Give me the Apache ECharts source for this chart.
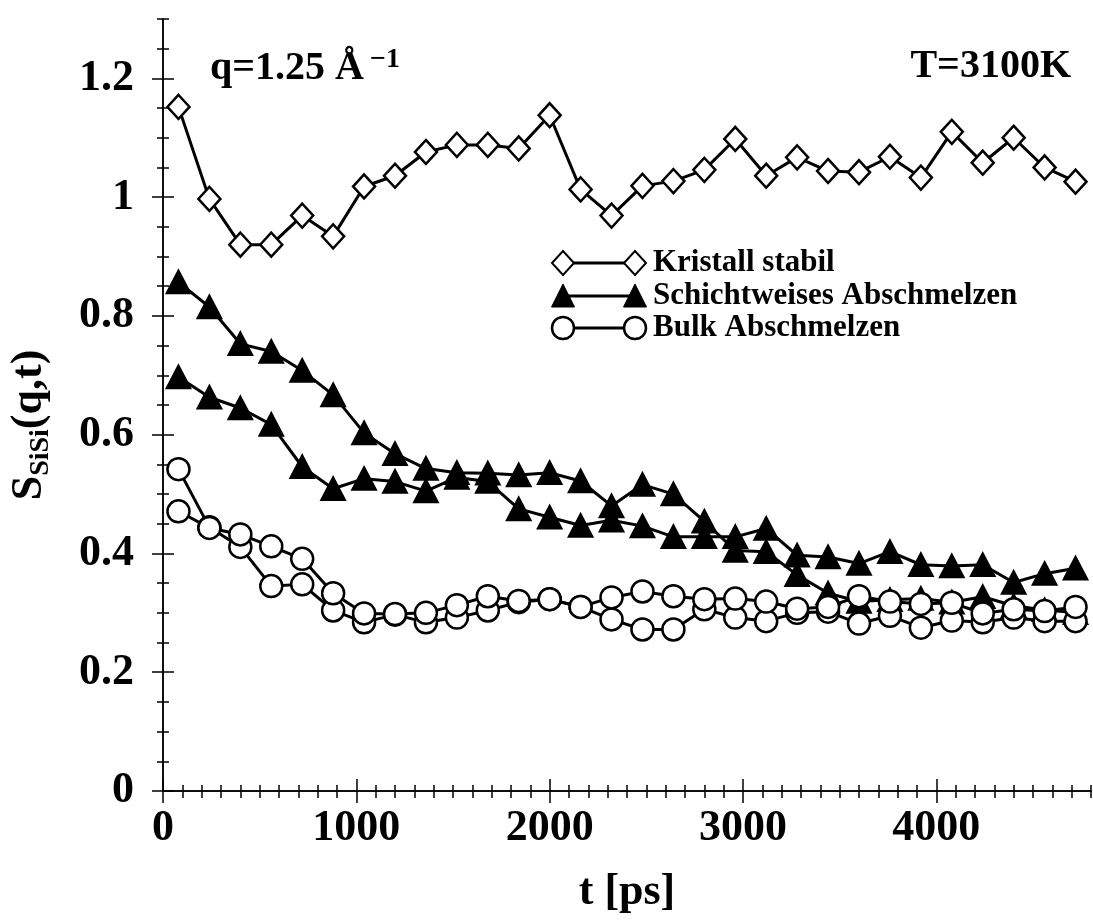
<!DOCTYPE html>
<html>
<head>
<meta charset="utf-8">
<script src="https://cdn.jsdelivr.net/npm/echarts@6/dist/echarts.min.js"></script>
<style>
  html, body { margin: 0; padding: 0; background: #fff; }
  #main { width: 1093px; height: 920px; }
</style>
</head>
<body>
<div id="main"></div>
<script>
  // Zeitpunkte [ps]
  var times = [80, 240, 400, 560, 720, 880, 1040, 1200, 1360, 1520, 1680, 1840, 2000, 2160, 2320,
               2480, 2640, 2800, 2960, 3120, 3280, 3440, 3600, 3760, 3920, 4080, 4240, 4400, 4560, 4720];

  // Kristall stabil
  var kristall = [1.152, 0.997, 0.920, 0.920, 0.969, 0.934, 1.018, 1.036, 1.076, 1.088, 1.088, 1.082, 1.138, 1.013, 0.969,
                  1.019, 1.027, 1.046, 1.098, 1.036, 1.067, 1.044, 1.042, 1.068, 1.033, 1.110, 1.058, 1.100, 1.050, 1.026];

  // Schichtweises Abschmelzen (zwei Laeufe)
  var schicht1 = [0.857, 0.815, 0.753, 0.740, 0.708, 0.667, 0.603, 0.568, 0.543, 0.536, 0.535, 0.532, 0.536, 0.522, 0.480,
                  0.516, 0.500, 0.454, 0.405, 0.403, 0.364, 0.333, 0.319, 0.322, 0.324, 0.318, 0.327, 0.312, 0.305, 0.300];
  var schicht2 = [0.697, 0.663, 0.645, 0.617, 0.546, 0.509, 0.526, 0.521, 0.505, 0.528, 0.521, 0.475, 0.461, 0.447, 0.456,
                  0.446, 0.428, 0.428, 0.428, 0.442, 0.397, 0.394, 0.383, 0.403, 0.381, 0.379, 0.381, 0.351, 0.366, 0.375];

  // Bulk Abschmelzen (zwei Laeufe)
  var bulk1 = [0.542, 0.444, 0.411, 0.345, 0.348, 0.304, 0.284, 0.297, 0.284, 0.292, 0.304, 0.318, 0.323, 0.310, 0.289,
               0.272, 0.272, 0.306, 0.292, 0.286, 0.300, 0.302, 0.282, 0.295, 0.275, 0.287, 0.284, 0.292, 0.286, 0.286];
  var bulk2 = [0.471, 0.443, 0.432, 0.412, 0.391, 0.333, 0.299, 0.298, 0.300, 0.313, 0.328, 0.320, 0.323, 0.310, 0.326,
               0.336, 0.328, 0.323, 0.324, 0.319, 0.307, 0.310, 0.328, 0.319, 0.315, 0.317, 0.299, 0.306, 0.303, 0.310];

  var xTickLabels = [0, 1000, 2000, 3000, 4000];
  var yTickLabels = [0, 0.2, 0.4, 0.6, 0.8, 1.0, 1.2];

  var FONT = '"Liberation Serif", "Times New Roman", serif';

  function pairs (vals) {
    return vals.map(function (v, i) { return [times[i], v]; });
  }

  var chart = echarts.init(document.getElementById('main'));

  var black = { color: '#000', width: 1.5 };

  // Achse mit kleinen Ticks (alle 100 ps / 0.05)
  function minorAxis (pos, max, interval, len) {
    return {
      type: 'value', min: 0, max: max, interval: interval, position: pos,
      axisLine: { show: true, lineStyle: black },
      axisTick: { show: true, inside: false, length: len, lineStyle: black },
      axisLabel: { show: false },
      splitLine: { show: false }
    };
  }
  // Achse mit grossen Ticks und Beschriftung
  function majorAxis (pos, max, ticks, len, withLabels) {
    return {
      type: 'value', min: 0, max: max, position: pos,
      axisLine: { show: false },
      axisTick: { show: true, inside: false, length: len, customValues: ticks, lineStyle: black },
      axisLabel: { show: withLabels, customValues: ticks },
      splitLine: { show: false }
    };
  }

  var xBottom = majorAxis('bottom', 4800, xTickLabels, 12, true);
  xBottom.axisLabel.margin = 16;
  xBottom.axisLabel.fontSize = 44;
  xBottom.axisLabel.fontWeight = 'bold';
  xBottom.axisLabel.fontFamily = FONT;
  xBottom.axisLabel.color = '#000';
  xBottom.axisLabel.formatter = function (v) { return String(v); };
  xBottom.name = 't [ps]';
  xBottom.nameLocation = 'middle';
  xBottom.nameGap = 80;
  xBottom.nameTextStyle = { fontSize: 44, fontWeight: 'bold', fontFamily: FONT, color: '#000' };

  var yLeft = majorAxis('left', 1.3, yTickLabels, 11, true);
  yLeft.axisLabel.margin = 29;
  yLeft.axisLabel.fontSize = 44;
  yLeft.axisLabel.fontWeight = 'bold';
  yLeft.axisLabel.fontFamily = FONT;
  yLeft.axisLabel.color = '#000';
  yLeft.axisLabel.formatter = function (v) { return String(Math.round(v * 10) / 10); };
  yLeft.name = '{b|S}{sub|SiSi}{b|(q,t)}';
  yLeft.nameLocation = 'middle';
  yLeft.nameGap = 108;
  yLeft.nameTextStyle = {
    padding: [0, 40, 0, 0],
    rich: {
      b: { fontSize: 44, fontWeight: 'bold', fontFamily: FONT, color: '#000', lineHeight: 50 },
      sub: { fontSize: 28, fontWeight: 'bold', fontFamily: FONT, color: '#000', lineHeight: 14, verticalAlign: 'bottom' }
    }
  };

  function lineSeries (name, vals, symbol, size, fill) {
    return {
      name: name, type: 'line', xAxisIndex: 0, yAxisIndex: 0,
      data: pairs(vals),
      symbol: symbol, symbolSize: size, showAllSymbol: true,
      lineStyle: { color: '#000', width: 3 },
      itemStyle: { color: fill, borderColor: '#000', borderWidth: 2.5, opacity: 1 },
      emphasis: { disabled: true },
      animation: false
    };
  }

  // Legende (Linie mit Symbol an beiden Enden)
  function legendSymbol (kind, cx, cy) {
    if (kind === 'circle') {
      return { type: 'circle', shape: { cx: cx, cy: cy, r: 11 }, style: { fill: '#fff', stroke: '#000', lineWidth: 2.5 } };
    }
    if (kind === 'diamond') {
      return { type: 'polygon', shape: { points: [[cx - 11, cy], [cx, cy - 12], [cx + 11, cy], [cx, cy + 12]] },
               style: { fill: '#fff', stroke: '#000', lineWidth: 2 } };
    }
    return { type: 'polygon', shape: { points: [[cx - 11.5, cy + 11], [cx, cy - 12], [cx + 11.5, cy + 11]] },
             style: { fill: '#000', stroke: '#000', lineWidth: 1 } };
  }
  var legendRows = [
    { kind: 'diamond', label: 'Kristall stabil', y: 263 },
    { kind: 'triangle', label: 'Schichtweises Abschmelzen', y: 296 },
    { kind: 'circle', label: 'Bulk Abschmelzen', y: 328 }
  ];
  var legendEls = [];
  legendRows.forEach(function (r) {
    legendEls.push({ type: 'line', shape: { x1: 563, y1: r.y, x2: 635, y2: r.y }, style: { stroke: '#000', lineWidth: 3 } });
    legendEls.push(legendSymbol(r.kind, 563, r.y));
    legendEls.push(legendSymbol(r.kind, 635, r.y));
    legendEls.push({ type: 'text', style: { text: r.label, x: 653, y: r.y, textVerticalAlign: 'middle',
      font: 'bold 31px ' + FONT, fill: '#000' } });
  });

  var option = {
    backgroundColor: '#fff',
    animation: false,
    grid: { left: 162, right: 2, top: 19, bottom: 126, containLabel: false },
    xAxis: [
      minorAxis('bottom', 4800, 100, 7),
      xBottom,
      minorAxis('top', 4800, 100, 6),
      majorAxis('top', 4800, xTickLabels, 12, false)
    ],
    yAxis: [
      minorAxis('left', 1.3, 0.05, 6),
      yLeft,
      minorAxis('right', 1.3, 0.05, 6),
      majorAxis('right', 1.3, yTickLabels, 11, false)
    ],
    series: [
      lineSeries('Kristall stabil', kristall, 'diamond', [22, 24], '#fff'),
      lineSeries('Schichtweises Abschmelzen', schicht1, 'triangle', [23, 22], '#000'),
      lineSeries('Schichtweises Abschmelzen 2', schicht2, 'triangle', [23, 22], '#000'),
      lineSeries('Bulk Abschmelzen', bulk1, 'circle', 22, '#fff'),
      lineSeries('Bulk Abschmelzen 2', bulk2, 'circle', 22, '#fff')
    ],
    graphic: [
      {
        type: 'text',
        style: {
          text: '{a|q=1.25 Å}{s|−1}',
          x: 210, y: 69, textVerticalAlign: 'middle',
          rich: {
            a: { fontSize: 40, fontWeight: 'bold', fontFamily: FONT, fill: '#000', lineHeight: 46 },
            s: { fontSize: 28, fontWeight: 'bold', fontFamily: FONT, fill: '#000', lineHeight: 20, verticalAlign: 'top', padding: [0, 0, 0, 6] }
          }
        }
      },
      {
        type: 'text',
        style: { text: 'T=3100K', x: 1071, y: 67, textAlign: 'right', textVerticalAlign: 'middle',
                 font: 'bold 40px ' + FONT, fill: '#000' }
      }
    ].concat(legendEls)
  };

  chart.setOption(option);
</script>
</body>
</html>
